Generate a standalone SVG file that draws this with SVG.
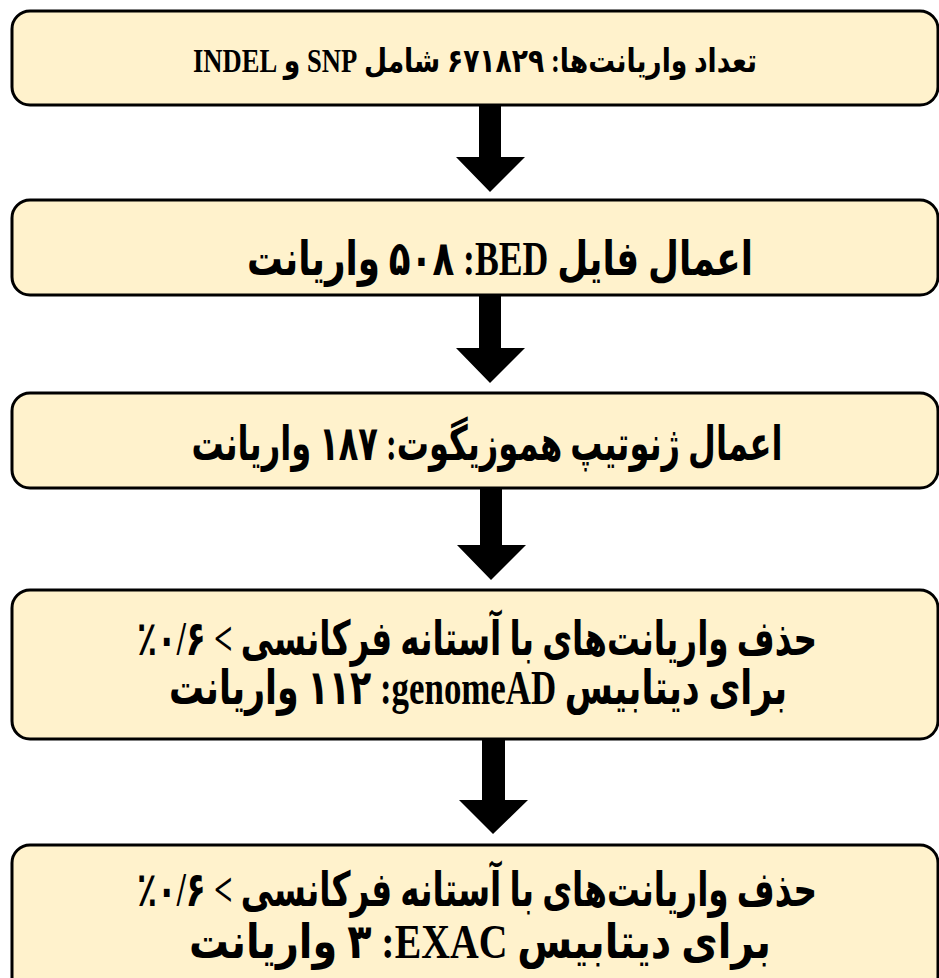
<svg xmlns="http://www.w3.org/2000/svg" width="939" height="978" viewBox="0 0 939 978">
<defs>
<style>
.box{fill:#FFF2CC;stroke:#000;stroke-width:3}
.t{font-family:"Liberation Serif","DejaVu Sans",serif;font-weight:bold;fill:#000;text-anchor:middle;font-size:20px}
.arr{fill:#000}
</style>
</defs>
<rect width="939" height="978" fill="#fff"/>
<g id="connectors">
<path class="arr" d="M479,105 H501 V157 H525 L490,192 L456,157 H479 Z"/>
<path class="arr" d="M479,295 H501 V348 H525 L490,383 L456,348 H479 Z"/>
<path class="arr" d="M480,488 H502 V545 H526 L491,580 L457,545 H480 Z"/>
<path class="arr" d="M482,740 H505 V800 H528 L493,834 L459,800 H482 Z"/>
</g>
<g id="node1">
<rect class="box" x="12" y="11" width="926" height="94" rx="18"/>
<text class="t" direction="rtl" transform="translate(475,72) scale(1.33,1.65)" x="0" y="0">تعداد واریانت‌ها: ۶۷۱۸۲۹ شامل SNP و INDEL</text>
</g>
<g id="node2">
<rect class="box" x="12" y="200" width="926" height="95" rx="18"/>
<text class="t" direction="rtl" transform="translate(500,275) scale(1.784,2.4)" x="0" y="0">اعمال فایل BED:&#x200F; ۵۰۸ واریانت</text>
</g>
<g id="node3">
<rect class="box" x="12" y="393" width="926" height="95" rx="18"/>
<text class="t" direction="rtl" transform="translate(487,460) scale(1.606,2.4)" x="0" y="0">اعمال ژنوتیپ هموزیگوت: ۱۸۷ واریانت</text>
</g>
<g id="node4">
<rect class="box" x="12" y="590" width="926" height="149" rx="18"/>
<text class="t" direction="rtl" transform="translate(477,655) scale(1.633,2.4)" x="0" y="0">حذف واریانت‌های با آستانه فرکانسی &gt; ۰/۶٪</text>
<text class="t" direction="rtl" transform="translate(478,704) scale(1.743,2.4)" x="0" y="0">برای دیتابیس genomeAD:&#x200F; ۱۱۲ واریانت</text>
</g>
<g id="node5">
<rect class="box" x="12" y="845" width="926" height="160" rx="18"/>
<text class="t" direction="rtl" transform="translate(477,906) scale(1.633,2.4)" x="0" y="0">حذف واریانت‌های با آستانه فرکانسی &gt; ۰/۶٪</text>
<text class="t" direction="rtl" transform="translate(480,958) scale(1.99,2.4)" x="0" y="0">برای دیتابیس EXAC:&#x200F; ۳ واریانت</text>
</g>
</svg>
